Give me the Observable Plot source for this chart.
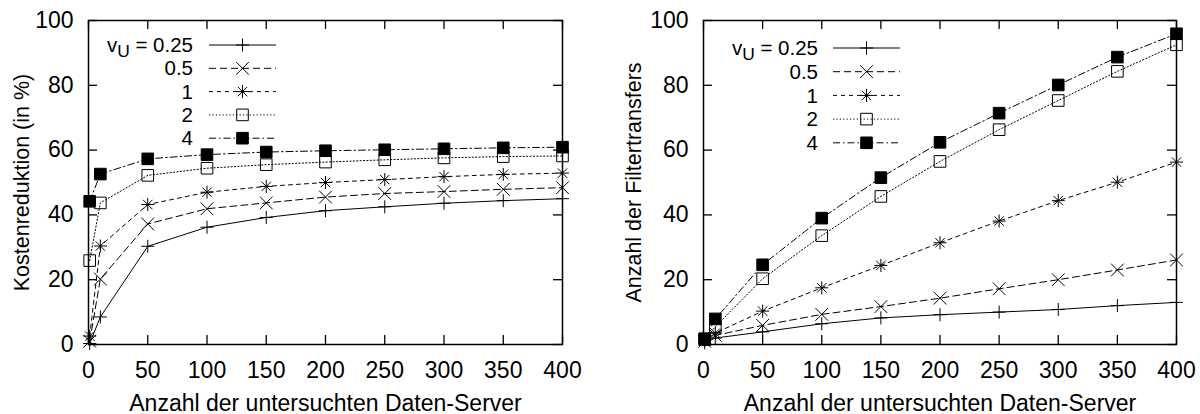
<!DOCTYPE html>
<html><head><meta charset="utf-8">
<script src="https://cdn.jsdelivr.net/npm/d3@7"></script>
<script src="https://cdn.jsdelivr.net/npm/@observablehq/plot@0.6"></script>
<style>
body{margin:0;background:#fff;}
#wrap{display:flex;width:1200px;height:414px;}
</style>
</head><body><div id="wrap"></div>
<script>
// ---------- data ----------
const xServers = [1, 10, 50, 100, 150, 200, 250, 300, 350, 400];
const seriesLabels = ["0.25", "0.5", "1", "2", "4"];
const xTicks = [0, 50, 100, 150, 200, 250, 300, 350, 400];
const yTicks = [0, 20, 40, 60, 80, 100];
const xLabel = "Anzahl der untersuchten Daten-Server";
const yLabelLeft = "Kostenreduktion (in %)";
const yLabelRight = "Anzahl der Filtertransfers";

// Kostenreduktion (in %)
const cost025 = [0.3, 8.5, 30.3, 36.2, 39.2, 41.3, 42.5, 43.6, 44.4, 45.0];
const cost05  = [1.0, 20.2, 37.2, 41.9, 43.7, 45.5, 46.6, 47.2, 47.9, 48.4];
const cost1   = [2.6, 30.4, 43.2, 47.0, 48.8, 50.0, 50.9, 51.8, 52.5, 52.9];
const cost2   = [25.9, 43.7, 52.2, 54.4, 55.5, 56.3, 57.0, 57.6, 58.0, 58.2];
const cost4   = [44.2, 52.6, 57.3, 58.6, 59.4, 59.8, 60.1, 60.4, 60.7, 60.9];

// Anzahl der Filtertransfers
const filt025 = [0.5, 2.0, 3.9, 6.4, 8.2, 9.2, 10.0, 10.8, 12.0, 13.0];
const filt05  = [1.0, 2.8, 5.9, 9.3, 11.7, 14.3, 17.2, 20.0, 23.0, 26.1];
const filt1   = [1.2, 3.5, 10.3, 17.5, 24.4, 31.4, 38.1, 44.4, 50.1, 56.3];
const filt2   = [1.5, 5.5, 20.3, 33.6, 45.7, 56.5, 66.3, 75.3, 84.3, 92.5];
const filt4   = [1.8, 7.9, 24.6, 39.0, 51.5, 62.4, 71.4, 80.1, 88.7, 95.9];

// ---------- gnuplot-like symbols ----------
const rad = size => Math.sqrt(size / Math.PI);
const symPlus = {draw(c, s){const r=rad(s); c.moveTo(-r,0); c.lineTo(r,0); c.moveTo(0,-r); c.lineTo(0,r);}};
const symTimes = {draw(c, s){const r=rad(s)*0.75; c.moveTo(-r,-r); c.lineTo(r,r); c.moveTo(-r,r); c.lineTo(r,-r);}};
const symStar = {draw(c, s){const r=rad(s); const q=r*0.72; c.moveTo(-r,0); c.lineTo(r,0); c.moveTo(0,-r); c.lineTo(0,r); c.moveTo(-q,-q); c.lineTo(q,q); c.moveTo(-q,q); c.lineTo(q,-q);}};
const symBox = {draw(c, s){const r=rad(s); c.moveTo(-r,-r); c.lineTo(r,-r); c.lineTo(r,r); c.lineTo(-r,r); c.closePath();}};

const styles = [
  {symbol: symPlus,  r: 6.5, fill: "none",  dash: null},
  {symbol: symTimes, r: 8.5, fill: "none",  dash: "7,4"},
  {symbol: symStar,  r: 6.5, fill: "none",  dash: "4,4"},
  {symbol: symBox,   r: 5.8, fill: "none",  dash: "1.2,2.2"},
  {symbol: symBox,   r: 5.8, fill: "black", dash: "7,3,1.5,3"}
];

const FONT = "'Liberation Sans', Arial, Helvetica, sans-serif";
const FS = 23;
const LEG_FS = 20.5;

function makeChart(valuesList, yLabel, cfg) {
  const W = 600, H = 414, mt = 20, mb = 70;
  const ph = H - mt - mb, pw = W - cfg.ml - cfg.mr;
  const marks = [];
  valuesList.forEach((vals, k) => {
    const st = styles[k];
    const data = xServers.map((x, i) => ({x, y: vals[i]}));
    marks.push(Plot.line(data, {x: "x", y: "y", stroke: "black", strokeWidth: 1, strokeDasharray: st.dash}));
  });
  valuesList.forEach((vals, k) => {
    const st = styles[k];
    const data = xServers.map((x, i) => ({x, y: vals[i]}));
    marks.push(Plot.dot(data, {x: "x", y: "y", symbol: st.symbol, r: st.r, stroke: "black", fill: st.fill, strokeWidth: 1}));
  });
  // inward ticks on all four sides
  marks.push(Plot.tickX(xTicks, {x: d => d, insetTop: ph - 9, stroke: "black", strokeWidth: 1.3}));
  marks.push(Plot.tickX(xTicks, {x: d => d, insetBottom: ph - 9, stroke: "black", strokeWidth: 1.3}));
  marks.push(Plot.tickY(yTicks, {y: d => d, insetRight: pw - 9, stroke: "black", strokeWidth: 1.3}));
  marks.push(Plot.tickY(yTicks, {y: d => d, insetLeft: pw - 9, stroke: "black", strokeWidth: 1.3}));
  marks.push(Plot.frame({stroke: "black", strokeWidth: 1.5}));
  marks.push(Plot.axisX(xTicks, {tickSize: 0, tickPadding: 17, label: null, fontSize: FS}));
  marks.push(Plot.axisY(yTicks, {tickSize: 0, tickPadding: 15, label: null, fontSize: FS}));
  marks.push(Plot.text([xLabel], {text: d => d, frameAnchor: "bottom", dy: 59, lineAnchor: "middle", textAnchor: "middle", fontSize: FS}));
  marks.push(Plot.text([yLabel], {text: d => d, frameAnchor: "left", dx: cfg.ylx, rotate: -90, lineAnchor: "middle", textAnchor: "middle", fontSize: 21.5}));

  const svg = Plot.plot({
    width: W, height: H,
    marginLeft: cfg.ml, marginRight: cfg.mr, marginTop: mt, marginBottom: mb,
    x: {domain: [0, 400]},
    y: {domain: [0, 100]},
    style: {fontFamily: FONT, fontSize: FS + "px", color: "black", background: "white", overflow: "visible"},
    marks
  });

  // legend (gnuplot key)
  const g = d3.select(svg).append("g").attr("font-family", FONT).attr("font-size", LEG_FS);
  seriesLabels.forEach((lab, k) => {
    const st = styles[k];
    const yy = mt + cfg.legTop + k * cfg.legStep;
    const t = g.append("text").attr("x", cfg.ml + cfg.legText).attr("y", yy).attr("dy", "0.35em")
      .attr("text-anchor", "end").attr("fill", "black");
    if (k === 0) {
      t.append("tspan").text("v");
      t.append("tspan").attr("dy", 5).attr("font-size", LEG_FS * 0.85).text("U");
      t.append("tspan").attr("dy", -5).text(" = " + lab);
    } else {
      t.text(lab);
    }
    g.append("line").attr("x1", cfg.ml + cfg.legL1).attr("x2", cfg.ml + cfg.legL2)
      .attr("y1", yy).attr("y2", yy).attr("stroke", "black").attr("stroke-width", 1)
      .attr("stroke-dasharray", st.dash);
    g.append("path").attr("transform", `translate(${cfg.ml + (cfg.legL1 + cfg.legL2) / 2},${yy})`)
      .attr("d", d3.symbol().type(st.symbol).size(Math.PI * st.r * st.r)())
      .attr("stroke", "black").attr("stroke-width", 1).attr("fill", st.fill);
  });
  return svg;
}

const wrap = document.getElementById("wrap");
wrap.appendChild(makeChart([cost025, cost05, cost1, cost2, cost4], yLabelLeft,
  {ml: 88, mr: 38, ylx: -66, legTop: 25, legStep: 23.3, legText: 105, legL1: 121, legL2: 188}));
wrap.appendChild(makeChart([filt025, filt05, filt1, filt2, filt4], yLabelRight,
  {ml: 103, mr: 24, ylx: -69, legTop: 28, legStep: 23.7, legText: 115, legL1: 130, legL2: 197}));
</script>
</body></html>
